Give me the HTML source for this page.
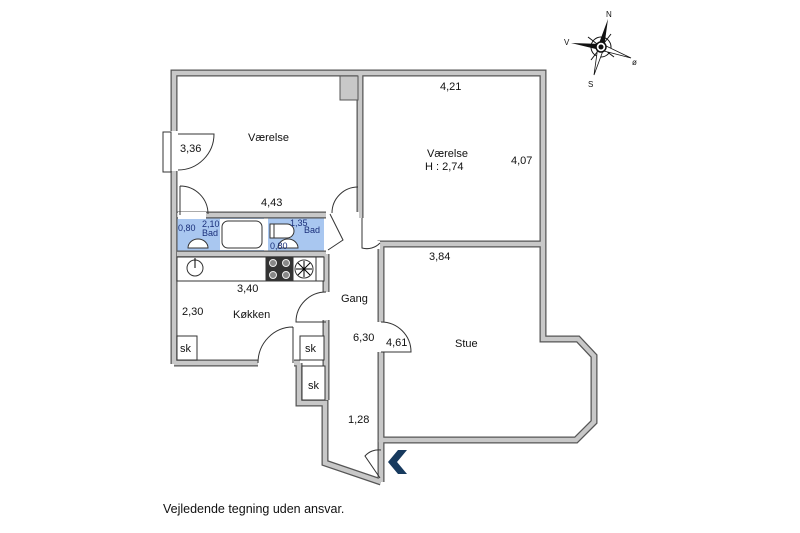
<!DOCTYPE html>
<html><head><meta charset="utf-8"><style>
html,body{margin:0;padding:0;background:#fff;}
svg{display:block;font-family:"Liberation Sans",Arial,sans-serif;}
</style></head><body>
<svg width="800" height="533" viewBox="0 0 800 533" xmlns="http://www.w3.org/2000/svg">
<rect x="177" y="217" width="87" height="35" fill="#a9c7f0"/>
<rect x="268" y="217" width="56" height="35" fill="#a9c7f0"/>
<rect x="220" y="219" width="44" height="31" fill="#fff"/>
<g fill="none" stroke-linejoin="miter">
<g stroke="#555" stroke-width="7">
<polyline points="174,364 174,73 362,73"/>
<polyline points="362,73 543,73 543,339 578,339 594,356 594,422 576,440 381,440 381,244 543,244"/>
<line x1="360" y1="73" x2="360" y2="218"/>
<line x1="177" y1="215" x2="326" y2="215"/>
<line x1="177" y1="254" x2="326" y2="254"/>
<polyline points="174,363 300,363"/>
<polyline points="326,254 326,292"/>
<polyline points="326,320 326,400"/>
<polyline points="299,363 299,403 325,403 325,463 381,482"/>
<line x1="381" y1="440" x2="381" y2="482"/>
</g>
<g stroke="#c8c8c8" stroke-width="4.5">
<polyline points="174,364 174,73 362,73"/>
<polyline points="362,73 543,73 543,339 578,339 594,356 594,422 576,440 381,440 381,244 543,244"/>
<line x1="360" y1="73" x2="360" y2="218"/>
<line x1="177" y1="215" x2="326" y2="215"/>
<line x1="177" y1="254" x2="326" y2="254"/>
<polyline points="174,363 300,363"/>
<polyline points="326,254 326,292"/>
<polyline points="326,320 326,400"/>
<polyline points="299,363 299,403 325,403 325,463 381,482"/>
<line x1="381" y1="440" x2="381" y2="482"/>
</g>
</g>
<rect x="340" y="76" width="18" height="24" fill="#c8c8c8" stroke="#555" stroke-width="1"/>
<rect x="377" y="322" width="8" height="30" fill="#fff"/>
<rect x="362" y="241" width="18" height="8" fill="#fff"/>
<rect x="178" y="212" width="28" height="7" fill="#fff"/>
<rect x="323" y="292" width="7" height="28" fill="#fff"/>
<rect x="258" y="359" width="36" height="8" fill="#fff"/>
<rect x="329" y="212" width="30" height="7" fill="#fff"/>
<rect x="170" y="131" width="8" height="40" fill="#fff"/>
<g fill="none" stroke="#333" stroke-width="1">
<path d="M178,170 A36,36 0 0 0 214,134 L178,134"/>
<rect x="163" y="132" width="8" height="40" fill="#fff"/>
<path d="M180,186 L180,215 M180,186 A28,28 0 0 1 208,214"/>
<path d="M358,187 A26,26 0 0 0 332,213"/>
<path d="M362,218 L362,248 A18,18 0 0 0 380,243"/>
<path d="M330,214 L343,240 L328,250"/>
<path d="M381,322 A30,30 0 0 1 411,352 L381,352"/>
<path d="M326,292 A30,30 0 0 0 296,322 L326,322"/>
<path d="M293,327 L293,363 M258,363 A35,36 0 0 1 293,327"/>
<path d="M381,450 A18,18 0 0 0 365,456 L380,478"/>
</g>
<g fill="#fff" stroke="#333" stroke-width="1">
<rect x="177" y="336" width="20" height="24"/>
<rect x="300" y="336" width="24" height="24"/>
<rect x="302" y="366" width="23" height="34"/>
<rect x="177" y="257" width="147" height="24"/>
<rect x="266" y="257" width="27" height="24" fill="#333"/>
<rect x="293" y="257" width="23" height="24"/>
<rect x="222" y="221" width="40" height="27" rx="6"/>
<path d="M188,248 A10,9 0 0 1 208,248 Z"/>
<path d="M278,248 A10,9 0 0 1 298,248 Z"/>
<rect x="270" y="224" width="4" height="14"/>
<path d="M274,224 L287,224 A7,7 0 0 1 287,238 L274,238 Z"/>
<circle cx="195" cy="268" r="8"/>
<circle cx="304" cy="269" r="9" fill="#fff"/>
</g>
<g fill="#888" stroke="#eee" stroke-width="1">
<circle cx="273" cy="263" r="3.5"/><circle cx="286" cy="263" r="3.5"/>
<circle cx="273" cy="275" r="3.5"/><circle cx="286" cy="275" r="3.5"/>
</g>
<g stroke="#000" stroke-width="1">
<line x1="296" y1="269" x2="312" y2="269"/><line x1="304" y1="261" x2="304" y2="277"/>
<line x1="298" y1="263" x2="310" y2="275"/><line x1="310" y1="263" x2="298" y2="275"/>
<line x1="195" y1="258" x2="195" y2="268"/>
</g>
<polygon points="388,462 398,450 407,450 397,462 407,474 398,474" fill="#173a5e"/>
<g fill="#111" font-size="11">
<text x="248" y="141">Værelse</text>
<text x="180" y="152">3,36</text>
<text x="261" y="206">4,43</text>
<text x="440" y="90">4,21</text>
<text x="427" y="157">Værelse</text>
<text x="425" y="170">H : 2,74</text>
<text x="511" y="164">4,07</text>
<text x="429" y="260">3,84</text>
<text x="237" y="292">3,40</text>
<text x="341" y="302">Gang</text>
<text x="182" y="315">2,30</text>
<text x="233" y="318">Køkken</text>
<text x="353" y="341">6,30</text>
<text x="386" y="346">4,61</text>
<text x="455" y="347">Stue</text>
<text x="180" y="352">sk</text>
<text x="305" y="352">sk</text>
<text x="308" y="389">sk</text>
<text x="348" y="423">1,28</text>
<text x="163" y="513" font-size="12.5">Vejledende tegning uden ansvar.</text>
</g>
<g fill="#1a2f7a" font-size="9">
<text x="178" y="231">0,80</text>
<text x="202" y="227">2,10</text>
<text x="202" y="236">Bad</text>
<text x="290" y="226">1,35</text>
<text x="304" y="233">Bad</text>
<text x="270" y="249">0,80</text>
</g>
<g transform="translate(601,47)">
<g stroke="#111" stroke-width="1">
<line x1="-13" y1="-10" x2="13" y2="10"/><line x1="10" y1="-13" x2="-10" y2="13"/>
</g>
<circle r="10" fill="none" stroke="#111" stroke-width="1"/>
<polygon points="7,-28 3,1 -3,-1" fill="#111"/>
<polygon points="-7,28 -3,-1 3,1" fill="#fff" stroke="#111" stroke-width="0.8"/>
<polygon points="-30,-4 1,-3 -1,3" fill="#111"/>
<polygon points="30,11 -1,3 1,-3" fill="#fff" stroke="#111" stroke-width="0.8"/>
<circle r="5" fill="#fff" stroke="#111" stroke-width="1.5"/><circle r="2.5" fill="#111"/>
<text x="5" y="-30" font-size="8" fill="#111">N</text>
<text x="-37" y="-2" font-size="8" fill="#111">V</text>
<text x="-13" y="40" font-size="8" fill="#111">S</text>
<text x="31" y="18" font-size="8" fill="#111">ø</text>
</g>
</svg>
</body></html>
